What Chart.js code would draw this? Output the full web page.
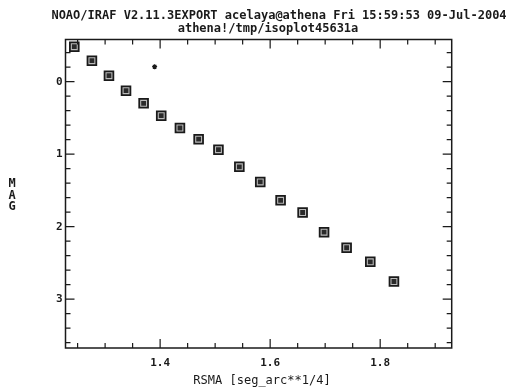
<!DOCTYPE html>
<html>
<head>
<meta charset="utf-8">
<script src="https://cdn.jsdelivr.net/npm/chart.js@4/dist/chart.umd.min.js"></script>
<style>
    html, body { margin: 0; padding: 0; background: #fff; }
</style>
</head>
<body>
<canvas id="graphique-isophote" width="510" height="388"></canvas>
<script>
// Profil isophote : magnitude en fonction de RSMA
const rsma = [1.244, 1.276, 1.307, 1.338, 1.370, 1.402, 1.436, 1.470, 1.506,
              1.544, 1.582, 1.619, 1.659, 1.698, 1.739, 1.782, 1.825];
const mag = [-0.483, -0.290, -0.083, 0.124, 0.298, 0.469, 0.639, 0.793, 0.938,
             1.174, 1.383, 1.636, 1.804, 2.076, 2.290, 2.484, 2.756];

// Point isolé (étoile)
const rsmaRejet = [1.390];
const magRejet = [-0.207];

const xTicks = [1.4, 1.6, 1.8];
const yTicks = [0, 1, 2, 3];

const entete = [
    "NOAO/IRAF V2.11.3EXPORT acelaya@athena Fri 15:59:53 09-Jul-2004",
    "athena!/tmp/isoplot45631a"
];
const titreX = "RSMA [seg_arc**1/4]";
const titreY = "MAG";

const police = "'DejaVu Sans Mono', 'Liberation Mono', monospace";
const encre = "#1a1a1a";

function points(xs, ys){
    const res = [];
    for(let i = 0; i < xs.length; i++){
        res.push({x: xs[i], y: ys[i]});
    }
    return res;
}

// Cadre, graduations intérieures et textes
const cadre = {
    id: "cadre",
    afterDraw(chart){
        const ctx = chart.ctx;
        const a = chart.chartArea;
        const sx = chart.scales.x;
        const sy = chart.scales.y;

        ctx.save();
        ctx.strokeStyle = encre;
        ctx.lineWidth = 1.5;
        ctx.strokeRect(a.left, a.top, a.right - a.left, a.bottom - a.top);

        ctx.lineWidth = 1.2;
        ctx.beginPath();
        // graduations x tous les 0.05
        for(let v = 1.25; v < sx.max; v += 0.05){
            const px = sx.getPixelForValue(v);
            if(px <= a.left || px >= a.right) continue;
            const major = xTicks.some(t => Math.abs(t - v) < 1e-6);
            const l = major ? 9 : 5;
            ctx.moveTo(px, a.bottom); ctx.lineTo(px, a.bottom - l);
            ctx.moveTo(px, a.top); ctx.lineTo(px, a.top + l);
        }
        // graduations y tous les 0.2
        for(let v = -0.4; v < sy.max; v += 0.2){
            const py = sy.getPixelForValue(v);
            if(py <= a.top || py >= a.bottom) continue;
            const major = yTicks.some(t => Math.abs(t - v) < 1e-6);
            const l = major ? 9 : 5;
            ctx.moveTo(a.left, py); ctx.lineTo(a.left + l, py);
            ctx.moveTo(a.right, py); ctx.lineTo(a.right - l, py);
        }
        ctx.stroke();

        ctx.fillStyle = encre;
        ctx.textAlign = "center";
        ctx.textBaseline = "middle";
        ctx.font = "bold 12px " + police;
        ctx.fillText(entete[0], 279, 16);
        ctx.fillText(entete[1], 268, 29);

        ctx.font = "12px " + police;
        ctx.fillText(titreX, 262, 381);
        ctx.font = "bold 12px " + police;
        for(let i = 0; i < titreY.length; i++){
            ctx.fillText(titreY[i], 12, 184 + i * 11.5);
        }
        ctx.restore();
    }
};

const data = {
    datasets: [
        {
            data: points(rsma, mag),
            pointStyle: "rect",
            pointRadius: 3.4,
            backgroundColor: "#2a2a2a",
            borderColor: "#2a2a2a",
            borderWidth: 0,
            showLine: false,
            order: 0
        },
        {
            data: points(rsma, mag),
            pointStyle: "rect",
            pointRadius: 6.2,
            backgroundColor: "#bbb",
            borderColor: encre,
            borderWidth: 1.8,
            showLine: false,
            order: 1
        },
        {
            data: points(rsmaRejet, magRejet),
            pointStyle: "star",
            pointRadius: 2.5,
            borderColor: encre,
            borderWidth: 1.2,
            showLine: false,
            order: 0
        }
    ]
};

const config = {
    type: "scatter",
    data: data,
    options: {
        responsive: false,
        animation: false,
        layout: { padding: { top: 39.5, right: 58.3, left: 0, bottom: 0 } },
        plugins: {
            legend: { display: false },
            tooltip: { enabled: false },
            title: { display: false }
        },
        scales: {
            x: {
                type: "linear",
                min: 1.228,
                max: 1.930,
                afterBuildTicks: axis => { axis.ticks = xTicks.map(v => ({ value: v })); },
                afterFit: axis => { axis.height = 40; },
                grid: { display: false, drawTicks: false },
                border: { display: false },
                ticks: {
                    autoSkip: false,
                    maxRotation: 0,
                    padding: 9,
                    color: encre,
                    font: { family: police, size: 11, weight: "bold" },
                    callback: v => v.toFixed(1)
                }
            },
            y: {
                type: "linear",
                reverse: true,
                min: -0.582,
                max: 3.673,
                afterBuildTicks: axis => { axis.ticks = yTicks.map(v => ({ value: v })); },
                afterFit: axis => { axis.width = 65.5; },
                grid: { display: false, drawTicks: false },
                border: { display: false },
                ticks: {
                    autoSkip: false,
                    padding: 3,
                    color: encre,
                    font: { family: police, size: 11, weight: "bold" },
                    callback: v => String(v)
                }
            }
        }
    },
    plugins: [cadre]
};

const graphique = new Chart(document.querySelector("#graphique-isophote"), config);
</script>
</body>
</html>
